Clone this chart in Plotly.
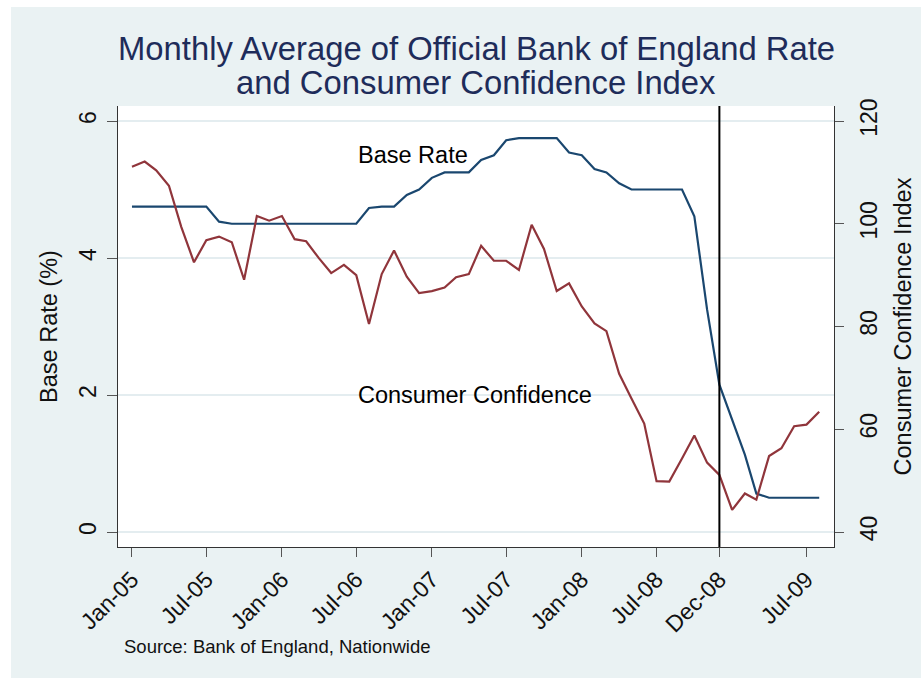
import pandas as pd
import plotly.graph_objects as go

# Monthly observations, January 2005 to August 2009
months = pd.date_range("2005-01-01", periods=56, freq="MS")

# Official Bank Rate, monthly average (%)
base_rate = [
    4.75, 4.75, 4.75, 4.75, 4.75, 4.75, 4.75, 4.53, 4.50, 4.50, 4.50, 4.50,
    4.50, 4.50, 4.50, 4.50, 4.50, 4.50, 4.50, 4.73, 4.75, 4.75, 4.92, 5.00,
    5.17, 5.25, 5.25, 5.25, 5.43, 5.50, 5.72, 5.75, 5.75, 5.75, 5.75, 5.54,
    5.50, 5.30, 5.25, 5.09, 5.00, 5.00, 5.00, 5.00, 5.00, 4.61, 3.25, 2.15,
    1.63, 1.13, 0.56, 0.50, 0.50, 0.50, 0.50, 0.50,
]

# Nationwide consumer confidence index
consumer_conf = [
    111.1, 112.1, 110.4, 107.4, 99.4, 92.5, 96.8, 97.5, 96.4, 89.1, 101.5, 100.6,
    101.5, 97.0, 96.6, 93.3, 90.4, 92.0, 90.0, 80.5, 90.2, 94.8, 89.7, 86.5,
    86.9, 87.6, 89.6, 90.2, 95.7, 92.8, 92.8, 91.0, 99.8, 95.1, 86.9, 88.4,
    83.9, 80.6, 79.1, 70.8, 66.0, 61.1, 49.9, 49.8, 54.3, 58.8, 53.5, 51.1,
    44.3, 47.5, 46.3, 54.8, 56.3, 60.6, 60.9, 63.4,
]

# Axis ticks
x_tick_dates = ["2005-01-01", "2005-07-01", "2006-01-01", "2006-07-01", "2007-01-01",
                "2007-07-01", "2008-01-01", "2008-07-01", "2008-12-01", "2009-07-01"]
x_tick_labels = ["Jan-05", "Jul-05", "Jan-06", "Jul-06", "Jan-07",
                 "Jul-07", "Jan-08", "Jul-08", "Dec-08", "Jul-09"]
rate_ticks = [0, 2, 4, 6]
conf_ticks = [40, 60, 80, 100, 120]
marker_date = "2008-12-01"

FONT = "Liberation Sans, Arial, sans-serif"
NAVY = "#1A476F"
MAROON = "#90353B"
BG = "#EAF2F3"
TITLE_COLOR = "#1E2C5A"

fig = go.Figure()
fig.add_trace(go.Scatter(x=months, y=base_rate, mode="lines", name="Base Rate",
                         line=dict(color=NAVY, width=2.2), yaxis="y"))
fig.add_trace(go.Scatter(x=months, y=consumer_conf, mode="lines", name="Consumer Confidence",
                         line=dict(color=MAROON, width=2.2), yaxis="y2"))

axis_common = dict(ticks="outside", showline=True, linecolor="#333333", linewidth=1,
                   tickcolor="#555555", tickwidth=1, zeroline=False, automargin=False,
                   tickfont=dict(family=FONT, size=23, color="#111111"))

fig.update_layout(
    width=921, height=679,
    margin=dict(l=118, r=87, t=106, b=132, autoexpand=False),
    paper_bgcolor="white",
    plot_bgcolor="white",
    showlegend=False,
    font=dict(family=FONT, color="#111111"),
    xaxis=dict(type="date", range=["2004-11-28", "2009-09-06"],
               tickvals=x_tick_dates, ticktext=x_tick_labels, tickangle=-45,
               ticklen=9, showgrid=False, **axis_common),
    yaxis=dict(range=[-0.219, 6.219], tickvals=rate_ticks, tickangle=-90, ticklen=10,
               ticklabelstandoff=2,
               showgrid=True, gridcolor="#E4EDF0", gridwidth=1.5,
               title=dict(text="Base Rate (%)", font=dict(family=FONT, size=23.5, color="#111111"),
                          standoff=10),
               **axis_common),
    yaxis2=dict(range=[37.08, 122.92], tickvals=conf_ticks, tickangle=-90, ticklen=9,
                ticklabelstandoff=5,
                overlaying="y", side="right", showgrid=False,
                title=dict(text="Consumer Confidence Index",
                           font=dict(family=FONT, size=23.5, color="#111111"), standoff=13),
                **axis_common),
)

# Light graph region behind everything, white plot region on top of it
fig.add_shape(type="rect", xref="paper", yref="paper", x0=-0.1494, x1=1.13, y0=-0.297, y1=1.2245,
              fillcolor=BG, line=dict(width=0), layer="below")
fig.add_shape(type="rect", xref="paper", yref="paper", x0=0, x1=1, y0=0, y1=1,
              fillcolor="white", line=dict(width=0), layer="below")

# Vertical reference line at December 2008
fig.add_shape(type="line", xref="x", yref="paper", x0=marker_date, x1=marker_date, y0=0, y1=1,
              line=dict(color="black", width=2), layer="above")

# Title (two lines)
fig.add_annotation(text="Monthly Average of Official Bank of England Rate", xref="paper", yref="paper",
                   x=0.5, y=1.1293, xanchor="center", yanchor="middle", showarrow=False,
                   font=dict(family=FONT, size=32.8, color=TITLE_COLOR))
fig.add_annotation(text="and Consumer Confidence Index", xref="paper", yref="paper",
                   x=0.5, y=1.0522, xanchor="center", yanchor="middle", showarrow=False,
                   font=dict(family=FONT, size=32.8, color=TITLE_COLOR))

# Series labels
fig.add_annotation(text="Base Rate", xref="x", yref="y", x="2006-07-01", y=5.5,
                   xanchor="left", yanchor="middle", showarrow=False,
                   font=dict(family=FONT, size=23.5, color="black"))
fig.add_annotation(text="Consumer Confidence", xref="x", yref="y", x="2006-07-01", y=2.0,
                   xanchor="left", yanchor="middle", showarrow=False,
                   font=dict(family=FONT, size=23.5, color="black"))

# Source note
fig.add_annotation(text="Source: Bank of England, Nationwide", xref="paper", yref="paper",
                   x=0.0056, y=-0.2245, xanchor="left", yanchor="middle", showarrow=False,
                   font=dict(family=FONT, size=18.5, color="#111111"))

fig.write_html("out.html")
